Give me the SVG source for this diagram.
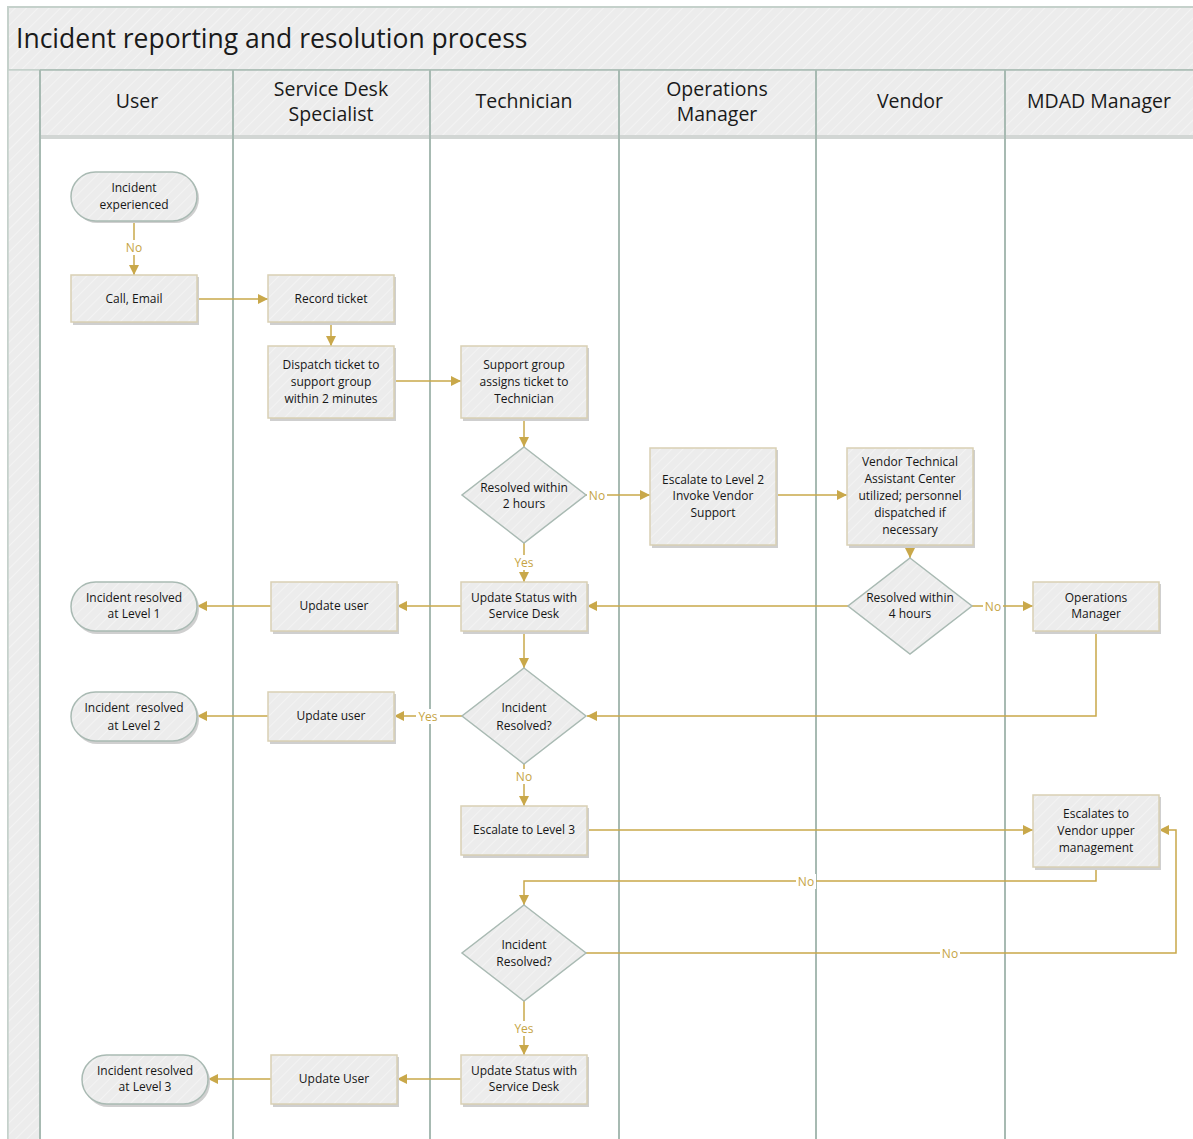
<svg xmlns="http://www.w3.org/2000/svg" width="1193" height="1139" viewBox="0 0 1193 1139">
<style>
.title{font-family:"Open Sans","Liberation Sans",sans-serif;font-size:26.5px;fill:#1a1a1a}
.hdr{font-family:"Open Sans","Liberation Sans",sans-serif;font-size:19.5px;fill:#1a1a1a;text-anchor:middle}
.t{font-family:"Open Sans","Liberation Sans",sans-serif;font-size:12px;fill:#161616;text-anchor:middle}
.lbl{font-family:"Open Sans","Liberation Sans",sans-serif;font-size:12px;fill:#c6a445;text-anchor:middle}
.box{fill:url(#hatch);stroke:#d9d0b4;stroke-width:1.5}
.term{fill:url(#hatch);stroke:#a9bab3;stroke-width:1.5}
.dia{fill:url(#hatch);stroke:#a9bab3;stroke-width:1.5}
.sh{fill:#cfcfcf}
.lane{stroke:#a7bab2;stroke-width:2}
.c{fill:none;stroke:#c9a84a;stroke-width:1.5;marker-end:url(#ah)}
.lb{fill:#ffffff}
</style>
<defs>
<pattern id="hatch" width="8" height="8" patternUnits="userSpaceOnUse" patternTransform="rotate(45)">
<rect width="8" height="8" fill="#ececec"/>
<line x1="0" y1="0" x2="0" y2="8" stroke="#f3f3f3" stroke-width="2"/>
</pattern>
<marker id="ah" markerWidth="10" markerHeight="10" refX="10" refY="5" orient="auto" markerUnits="userSpaceOnUse">
<path d="M0,0 L10,5 L0,10 z" fill="#c9a84a"/>
</marker>
</defs>

<g id="frame">
<rect x="8" y="7" width="1190" height="1140" fill="#ffffff" stroke="#c5d1cb" stroke-width="2"/>
<rect x="8" y="7" width="1190" height="63" fill="url(#hatch)" stroke="#c5d1cb" stroke-width="2"/>
<rect x="8" y="70" width="32" height="1075" fill="url(#hatch)" stroke="#c5d1cb" stroke-width="1.5"/>
<rect x="40" y="70" width="1158" height="65" fill="url(#hatch)"/>
<rect x="40" y="135" width="1158" height="4" fill="#d2d6d4"/>
<text class="title" x="16" y="48">Incident reporting and resolution process</text>
</g>

<g id="lanes">
<line class="lane" x1="40" y1="70" x2="40" y2="1139"/>
<line class="lane" x1="233" y1="70" x2="233" y2="1139"/>
<line class="lane" x1="430" y1="70" x2="430" y2="1139"/>
<line class="lane" x1="619" y1="70" x2="619" y2="1139"/>
<line class="lane" x1="816" y1="70" x2="816" y2="1139"/>
<line class="lane" x1="1005" y1="70" x2="1005" y2="1139"/>
<line x1="40" y1="70" x2="1193" y2="70" stroke="#a7bab2" stroke-width="1.5"/>
<text class="hdr" x="137" y="108">User</text>
<text class="hdr" x="331" y="96">Service Desk</text>
<text class="hdr" x="331" y="121">Specialist</text>
<text class="hdr" x="524" y="108">Technician</text>
<text class="hdr" x="717" y="96">Operations</text>
<text class="hdr" x="717" y="121">Manager</text>
<text class="hdr" x="910" y="108">Vendor</text>
<text class="hdr" x="1099" y="108">MDAD Manager</text>
</g>

<g id="connectors">
<path class="c" d="M134,221 V275"/>
<rect class="lb" x="124" y="240" width="20" height="15"/>
<text class="lbl" x="134" y="252">No</text>
<path class="c" d="M197,299 H268"/>
<path class="c" d="M331,322 V346"/>
<path class="c" d="M394,381 H461"/>
<path class="c" d="M524,418 V447"/>
<path class="c" d="M586,495 H650"/>
<rect class="lb" x="587" y="488" width="20" height="15"/>
<text class="lbl" x="597" y="500">No</text>
<path class="c" d="M524,543 V582"/>
<rect class="lb" x="512" y="555" width="24" height="15"/>
<text class="lbl" x="524" y="567">Yes</text>
<path class="c" d="M776,495 H847"/>
<path class="c" d="M910,545 V558"/>
<path class="c" d="M848,606 H587"/>
<path class="c" d="M972,606 H1033"/>
<rect class="lb" x="983" y="599" width="20" height="15"/>
<text class="lbl" x="993" y="611">No</text>
<path class="c" d="M461,606 H397"/>
<path class="c" d="M271,606 H197"/>
<path class="c" d="M524,631 V668"/>
<path class="c" d="M1096,631 V716 H587"/>
<path class="c" d="M462,716 H394"/>
<rect class="lb" x="416" y="709" width="24" height="15"/>
<text class="lbl" x="428" y="721">Yes</text>
<path class="c" d="M268,716 H197"/>
<path class="c" d="M524,764 V806"/>
<rect class="lb" x="514" y="769" width="20" height="15"/>
<text class="lbl" x="524" y="781">No</text>
<path class="c" d="M587,830 H1033"/>
<path class="c" d="M1096,867 V881 H524 V905"/>
<rect class="lb" x="796" y="874" width="20" height="15"/>
<text class="lbl" x="806" y="886">No</text>
<path class="c" d="M586,953 H1176 V830 H1159"/>
<rect class="lb" x="940" y="946" width="20" height="15"/>
<text class="lbl" x="950" y="958">No</text>
<path class="c" d="M524,1001 V1055"/>
<rect class="lb" x="512" y="1021" width="24" height="15"/>
<text class="lbl" x="524" y="1033">Yes</text>
<path class="c" d="M461,1079 H397"/>
<path class="c" d="M271,1079 H208"/>
</g>

<g id="n_incident_experienced">
<rect class="sh" x="73" y="174" width="126" height="49" rx="24.5"/>
<rect class="term" x="71" y="172" width="126" height="49" rx="24.5"/>
<text class="t" x="134" y="192">Incident</text>
<text class="t" x="134" y="209">experienced</text>
</g>

<g id="n_call_email">
<rect class="sh" x="73" y="277" width="126" height="48"/>
<rect class="box" x="71" y="275" width="126" height="47"/>
<text class="t" x="134" y="303">Call, Email</text>
</g>

<g id="n_record_ticket">
<rect class="sh" x="270" y="277" width="126" height="48"/>
<rect class="box" x="268" y="275" width="126" height="47"/>
<text class="t" x="331" y="303">Record ticket</text>
</g>

<g id="n_dispatch">
<rect class="sh" x="270" y="348" width="126" height="73"/>
<rect class="box" x="268" y="346" width="126" height="72"/>
<text class="t" x="331" y="369">Dispatch ticket to</text>
<text class="t" x="331" y="386">support group</text>
<text class="t" x="331" y="403">within 2 minutes</text>
</g>

<g id="n_support_group">
<rect class="sh" x="463" y="348" width="126" height="73"/>
<rect class="box" x="461" y="346" width="126" height="72"/>
<text class="t" x="524" y="369">Support group</text>
<text class="t" x="524" y="386">assigns ticket to</text>
<text class="t" x="524" y="403">Technician</text>
</g>

<g id="n_resolved_2h">
<polygon class="dia" points="524,447 586,495 524,543 462,495"/>
<text class="t" x="524" y="492">Resolved within</text>
<text class="t" x="524" y="508">2 hours</text>
</g>

<g id="n_escalate_l2">
<rect class="sh" x="652" y="450" width="126" height="98"/>
<rect class="box" x="650" y="448" width="126" height="97"/>
<text class="t" x="713" y="484">Escalate to Level 2</text>
<text class="t" x="713" y="500">Invoke Vendor</text>
<text class="t" x="713" y="517">Support</text>
</g>

<g id="n_vendor_tac">
<rect class="sh" x="849" y="450" width="126" height="98"/>
<rect class="box" x="847" y="448" width="126" height="97"/>
<text class="t" x="910" y="466">Vendor Technical</text>
<text class="t" x="910" y="483">Assistant Center</text>
<text class="t" x="910" y="500">utilized; personnel</text>
<text class="t" x="910" y="517">dispatched if</text>
<text class="t" x="910" y="534">necessary</text>
</g>

<g id="n_resolved_4h">
<polygon class="dia" points="910,558 972,606 910,654 848,606"/>
<text class="t" x="910" y="602">Resolved within</text>
<text class="t" x="910" y="618">4 hours</text>
</g>

<g id="n_ops_manager">
<rect class="sh" x="1035" y="584" width="126" height="50"/>
<rect class="box" x="1033" y="582" width="126" height="49"/>
<text class="t" x="1096" y="602">Operations</text>
<text class="t" x="1096" y="618">Manager</text>
</g>

<g id="n_update_status_1">
<rect class="sh" x="463" y="584" width="126" height="50"/>
<rect class="box" x="461" y="582" width="126" height="49"/>
<text class="t" x="524" y="602">Update Status with</text>
<text class="t" x="524" y="618">Service Desk</text>
</g>

<g id="n_update_user_1">
<rect class="sh" x="273" y="584" width="126" height="50"/>
<rect class="box" x="271" y="582" width="126" height="49"/>
<text class="t" x="334" y="610">Update user</text>
</g>

<g id="n_resolved_l1">
<rect class="sh" x="73" y="584" width="126" height="50" rx="24.5"/>
<rect class="term" x="71" y="582" width="126" height="49" rx="24.5"/>
<text class="t" x="134" y="602">Incident resolved</text>
<text class="t" x="134" y="618">at Level 1</text>
</g>

<g id="n_incident_resolved_1">
<polygon class="dia" points="524,668 586,716 524,764 462,716"/>
<text class="t" x="524" y="712">Incident</text>
<text class="t" x="524" y="730">Resolved?</text>
</g>

<g id="n_update_user_2">
<rect class="sh" x="270" y="694" width="126" height="50"/>
<rect class="box" x="268" y="692" width="126" height="49"/>
<text class="t" x="331" y="720">Update user</text>
</g>

<g id="n_resolved_l2">
<rect class="sh" x="73" y="694" width="126" height="50" rx="24.5"/>
<rect class="term" x="71" y="692" width="126" height="49" rx="24.5"/>
<text class="t" x="134" y="712">Incident&#160; resolved</text>
<text class="t" x="134" y="730">at Level 2</text>
</g>

<g id="n_escalate_l3">
<rect class="sh" x="463" y="808" width="126" height="50"/>
<rect class="box" x="461" y="806" width="126" height="49"/>
<text class="t" x="524" y="834">Escalate to Level 3</text>
</g>

<g id="n_vendor_upper">
<rect class="sh" x="1035" y="797" width="126" height="73"/>
<rect class="box" x="1033" y="795" width="126" height="72"/>
<text class="t" x="1096" y="818">Escalates to</text>
<text class="t" x="1096" y="835">Vendor upper</text>
<text class="t" x="1096" y="852">management</text>
</g>

<g id="n_incident_resolved_2">
<polygon class="dia" points="524,905 586,953 524,1001 462,953"/>
<text class="t" x="524" y="949">Incident</text>
<text class="t" x="524" y="966">Resolved?</text>
</g>

<g id="n_update_status_2">
<rect class="sh" x="463" y="1057" width="126" height="50"/>
<rect class="box" x="461" y="1055" width="126" height="49"/>
<text class="t" x="524" y="1075">Update Status with</text>
<text class="t" x="524" y="1091">Service Desk</text>
</g>

<g id="n_update_user_3">
<rect class="sh" x="273" y="1057" width="126" height="50"/>
<rect class="box" x="271" y="1055" width="126" height="49"/>
<text class="t" x="334" y="1083">Update User</text>
</g>

<g id="n_resolved_l3">
<rect class="sh" x="84" y="1057" width="126" height="50" rx="24.5"/>
<rect class="term" x="82" y="1055" width="126" height="49" rx="24.5"/>
<text class="t" x="145" y="1075">Incident resolved</text>
<text class="t" x="145" y="1091">at Level 3</text>
</g>
</svg>
